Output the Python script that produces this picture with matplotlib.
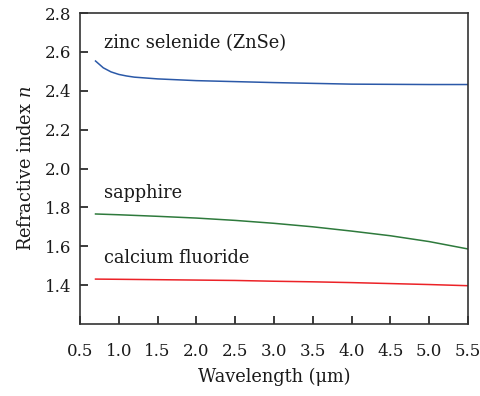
import matplotlib
matplotlib.use("Agg")
import matplotlib.pyplot as plt

# Wavelength samples (um) and refractive indices
wl_znse = [0.7, 0.8, 0.9, 1.0, 1.1, 1.2, 1.5, 2.0, 2.5, 3.0, 3.5, 4.0, 4.5, 5.0, 5.5]
n_znse = [2.553, 2.518, 2.497, 2.484, 2.476, 2.470, 2.461, 2.452, 2.447, 2.442, 2.438, 2.434, 2.433, 2.432, 2.432]

wl_sapphire = [0.7, 1.0, 1.5, 2.0, 2.5, 3.0, 3.5, 4.0, 4.5, 5.0, 5.5]
n_sapphire = [1.766, 1.762, 1.754, 1.745, 1.733, 1.718, 1.700, 1.678, 1.654, 1.624, 1.586]

wl_caf2 = [0.7, 1.0, 1.5, 2.0, 2.5, 3.0, 3.5, 4.0, 4.5, 5.0, 5.5]
n_caf2 = [1.431, 1.430, 1.428, 1.426, 1.424, 1.420, 1.417, 1.413, 1.408, 1.403, 1.397]

labels = ["zinc selenide (ZnSe)", "sapphire", "calcium fluoride"]
label_pos = [(0.81, 2.645), (0.81, 1.874), (0.81, 1.54)]
colors = ["#2b59a8", "#2e7a3c", "#ec2227"]

xticks = [0.5, 1.0, 1.5, 2.0, 2.5, 3.0, 3.5, 4.0, 4.5, 5.0, 5.5]
yticks = [1.4, 1.6, 1.8, 2.0, 2.2, 2.4, 2.6, 2.8]

plt.rcParams["font.family"] = "DejaVu Serif"
plt.rcParams["mathtext.fontset"] = "dejavuserif"

fig = plt.figure(figsize=(4.8, 3.96), dpi=100)
ax = fig.add_axes([80 / 480, 72 / 396, 388 / 480, 311 / 396])

for wl, n, c in zip([wl_znse, wl_sapphire, wl_caf2], [n_znse, n_sapphire, n_caf2], colors):
    ax.plot(wl, n, color=c, linewidth=1.1)

for text, (x, y) in zip(labels, label_pos):
    ax.text(x, y, text, fontsize=12.8, color="#1a1a1a", va="center", ha="left")

ax.set_xlim(0.5, 5.5)
ax.set_ylim(1.2, 2.8)
ax.set_xticks(xticks)
ax.set_yticks(yticks)
ax.set_xticklabels(["%.1f" % v for v in xticks])
ax.set_yticklabels(["%.1f" % v for v in yticks])
ax.tick_params(direction="in", length=6, width=1.2, labelsize=12, colors="#1a1a1a")
ax.tick_params(axis="x", pad=14)
ax.tick_params(axis="y", pad=6)
for side in ["left", "bottom", "top", "right"]:
    ax.spines[side].set_linewidth(1.2)
    ax.spines[side].set_color("#333333")

ax.set_xlabel(u"Wavelength (\u03bcm)", fontsize=12.8, color="#1a1a1a", labelpad=5)
ax.set_ylabel(r"Refractive index $n$", fontsize=12.8, color="#1a1a1a", labelpad=7)

fig.savefig("out.png", dpi=100)
